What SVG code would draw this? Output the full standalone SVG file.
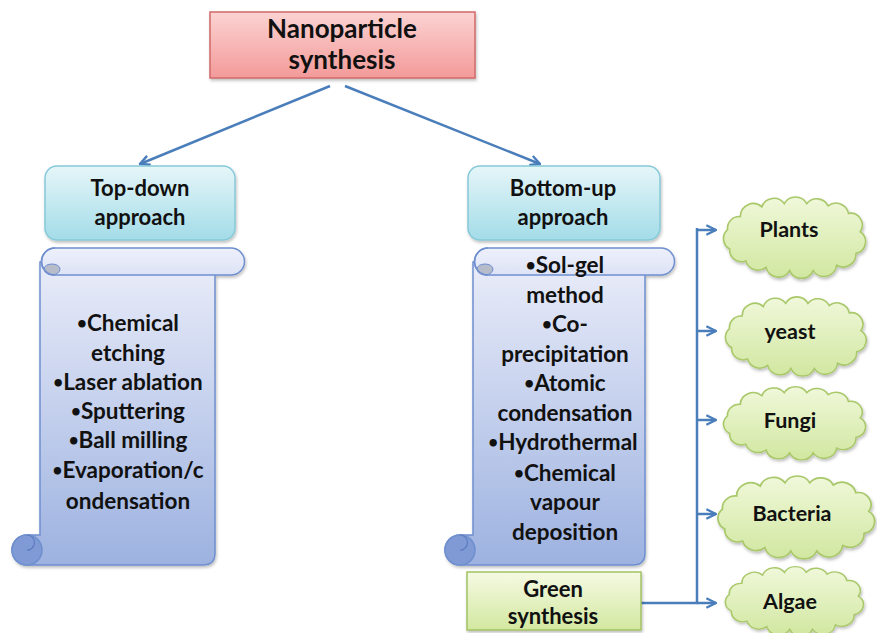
<svg xmlns="http://www.w3.org/2000/svg" xmlns:xlink="http://www.w3.org/1999/xlink" width="877" height="633" viewBox="0 0 877 633">
<style>
text{font-family:Lato,"Liberation Sans",sans-serif;font-weight:bold;fill:#111;text-anchor:middle}
.t{font-size:22px}
.l{font-size:22.5px}
.c{font-size:21.5px}
.title{font-size:26px}
.b{font-size:17px;baseline-shift:2px}
.conn{fill:none;stroke:#4a7ebb;stroke-width:2.5}
.scroll{stroke:#6f8fcf;stroke-width:1.5}
.cloud{fill:url(#gCloud);stroke:#a9c86a;stroke-width:1.5}
</style>
<defs>
<linearGradient id="gPink" x1="0" y1="0" x2="0" y2="1"><stop offset="0" stop-color="#fbd3d2"/><stop offset="1" stop-color="#f39a99"/></linearGradient>
<linearGradient id="gCyan" x1="0" y1="0" x2="0" y2="1"><stop offset="0" stop-color="#e6f6f9"/><stop offset="1" stop-color="#a3dce8"/></linearGradient>
<linearGradient id="gGreen" x1="0" y1="0" x2="0" y2="1"><stop offset="0" stop-color="#f5fae3"/><stop offset="1" stop-color="#d3e8a0"/></linearGradient>
<linearGradient id="gCloud" x1="0" y1="0" x2="0" y2="1"><stop offset="0" stop-color="#f0f8da"/><stop offset="1" stop-color="#d1e7a0"/></linearGradient>
<linearGradient id="gScroll" x1="0" y1="0" x2="0" y2="1"><stop offset="0" stop-color="#e9ecf9"/><stop offset="1" stop-color="#9db2e0"/></linearGradient>
<linearGradient id="gRoll" x1="0" y1="0" x2="0" y2="1"><stop offset="0" stop-color="#eef0fb"/><stop offset="1" stop-color="#dde3f6"/></linearGradient>
<filter id="sh" x="-10%" y="-10%" width="120%" height="130%"><feDropShadow dx="1" dy="2" stdDeviation="1.5" flood-color="#000" flood-opacity="0.25"/></filter>
<marker id="arr" viewBox="0 0 10 10" refX="9" refY="5" markerWidth="12" markerHeight="12" markerUnits="userSpaceOnUse" orient="auto">
<path d="M1,1 L9,5 L1,9" fill="none" stroke="#4a7ebb" stroke-width="2"/>
</marker>
<path id="cloud" d="M20,20 A12 12 0 0 1 40,11 A12 12 0 0 1 61,8 A12 12 0 0 1 82,8 A12 12 0 0 1 102,10 A12 12 0 0 1 121,17 A11 11 0 0 1 132,34 A11 11 0 0 1 128,54 A12 12 0 0 1 110,65 A12 12 0 0 1 88,70 A12 12 0 0 1 66,70 A12 12 0 0 1 44,67 A12 12 0 0 1 25,61 A11 11 0 0 1 10,50 A11 11 0 0 1 8,32 A11 11 0 0 1 20,20 Z"/>
</defs>

<rect width="877" height="633" fill="#fff"/>

<g id="connectors">
<line class="conn" x1="330" y1="86" x2="140" y2="164" marker-end="url(#arr)"/>
<line class="conn" x1="345" y1="86" x2="540" y2="164" marker-end="url(#arr)"/>
<path class="conn" d="M641,603 H697 V228"/>
<line class="conn" x1="697" y1="230" x2="716" y2="230" marker-end="url(#arr)"/>
<line class="conn" x1="697" y1="331" x2="716" y2="331" marker-end="url(#arr)"/>
<line class="conn" x1="697" y1="420" x2="716" y2="420" marker-end="url(#arr)"/>
<line class="conn" x1="697" y1="514" x2="716" y2="514" marker-end="url(#arr)"/>
<line class="conn" x1="697" y1="603" x2="716" y2="603" marker-end="url(#arr)"/>
</g>

<g id="nanoparticle">
<rect x="210" y="12" width="265" height="66" fill="url(#gPink)" stroke="#d06a68" stroke-width="1.5" filter="url(#sh)"/>
<text class="title" x="342" y="38">Nanoparticle</text>
<text class="title" x="342" y="69">synthesis</text>
</g>

<g id="topdown">
<rect x="45" y="166" width="190" height="74" rx="12" fill="url(#gCyan)" stroke="#86c9d8" stroke-width="1.5" filter="url(#sh)"/>
<text class="t" x="140" y="196">Top-down</text>
<text class="t" x="140" y="225">approach</text>
</g>

<g id="bottomup">
<rect x="468" y="166" width="192" height="74" rx="12" fill="url(#gCyan)" stroke="#86c9d8" stroke-width="1.5" filter="url(#sh)"/>
<text class="t" x="563" y="196">Bottom-up</text>
<text class="t" x="563" y="225">approach</text>
</g>

<g id="topdown-list">
<g filter="url(#sh)">
<path class="scroll" fill="url(#gScroll)" d="M40,262 H215 V553 Q215,565 203,565 H27 A15 15 0 0 1 27,535 H40 Z"/>
<path class="scroll" fill="url(#gRoll)" d="M55,248 H231 A13.5 13.5 0 0 1 231,275 H55 A13.5 13.5 0 0 1 55,248 Z"/>
</g>
<path d="M44,269 A8 6 0 0 0 60,269 A8 5 0 0 0 44,269 Z" fill="#b7bccb" stroke="#6f8fcf" stroke-width="1"/>
<path d="M55,275 A13.5 13.5 0 0 1 55,248" fill="none" stroke="#6f8fcf" stroke-width="1.5"/>
<circle cx="27" cy="550" r="15" fill="#7f9ad4" stroke="#6f8fcf" stroke-width="1.5"/>
<path d="M27,535 A7.5 7.5 0 0 1 27,550 A5 5 0 0 0 33,546" fill="none" stroke="#5d7cc0" stroke-width="1.2"/>
<text class="l" x="128" y="331"><tspan class="b">•</tspan>Chemical</text>
<text class="l" x="128" y="361">etching</text>
<text class="l" x="128" y="390"><tspan class="b">•</tspan>Laser ablation</text>
<text class="l" x="128" y="419"><tspan class="b">•</tspan>Sputtering</text>
<text class="l" x="128" y="448"><tspan class="b">•</tspan>Ball milling</text>
<text class="l" x="128" y="478"><tspan class="b">•</tspan>Evaporation/c</text>
<text class="l" x="128" y="509">ondensation</text>
</g>

<g id="bottomup-list">
<g filter="url(#sh)">
<path class="scroll" fill="url(#gScroll)" d="M473,262 H645 V553 Q645,565 633,565 H460 A15 15 0 0 1 460,535 H473 Z"/>
<path class="scroll" fill="url(#gRoll)" d="M488,248 H661 A13.5 13.5 0 0 1 661,275 H488 A13.5 13.5 0 0 1 488,248 Z"/>
</g>
<path d="M477,269 A8 6 0 0 0 493,269 A8 5 0 0 0 477,269 Z" fill="#b7bccb" stroke="#6f8fcf" stroke-width="1"/>
<path d="M488,275 A13.5 13.5 0 0 1 488,248" fill="none" stroke="#6f8fcf" stroke-width="1.5"/>
<circle cx="460" cy="550" r="15" fill="#7f9ad4" stroke="#6f8fcf" stroke-width="1.5"/>
<path d="M460,535 A7.5 7.5 0 0 1 460,550 A5 5 0 0 0 466,546" fill="none" stroke="#5d7cc0" stroke-width="1.2"/>
<text class="l" x="565" y="273"><tspan class="b">•</tspan>Sol-gel</text>
<text class="l" x="565" y="303">method</text>
<text class="l" x="565" y="332"><tspan class="b">•</tspan>Co-</text>
<text class="l" x="565" y="362">precipitation</text>
<text class="l" x="565" y="391"><tspan class="b">•</tspan>Atomic</text>
<text class="l" x="565" y="421">condensation</text>
<text class="l" x="563" y="450"><tspan class="b">•</tspan>Hydrothermal</text>
<text class="l" x="565" y="481"><tspan class="b">•</tspan>Chemical</text>
<text class="l" x="565" y="510">vapour</text>
<text class="l" x="565" y="540">deposition</text>
</g>

<g id="green">
<rect x="467" y="572" width="174" height="58" fill="url(#gGreen)" stroke="#a3c264" stroke-width="1.5" filter="url(#sh)"/>
<text class="t" x="553" y="597">Green</text>
<text class="t" x="553" y="624">synthesis</text>
</g>

<g id="plants">
<use href="#cloud" class="cloud" transform="translate(719,195) scale(1.07,1.08)" filter="url(#sh)"/>
<text class="c" x="789" y="237">Plants</text>
</g>
<g id="yeast">
<use href="#cloud" class="cloud" transform="translate(721,295) scale(1.06,1.05)" filter="url(#sh)"/>
<text class="c" x="790" y="339">yeast</text>
</g>
<g id="fungi">
<use href="#cloud" class="cloud" transform="translate(719,385) scale(1.07,0.97)" filter="url(#sh)"/>
<text class="c" x="790" y="428">Fungi</text>
</g>
<g id="bacteria">
<use href="#cloud" class="cloud" transform="translate(713,474) scale(1.18,1.1)" filter="url(#sh)"/>
<text class="c" x="792" y="521">Bacteria</text>
</g>
<g id="algae">
<use href="#cloud" class="cloud" transform="translate(721,565) scale(1.04,0.92)" filter="url(#sh)"/>
<text class="c" x="790" y="609">Algae</text>
</g>
</svg>
